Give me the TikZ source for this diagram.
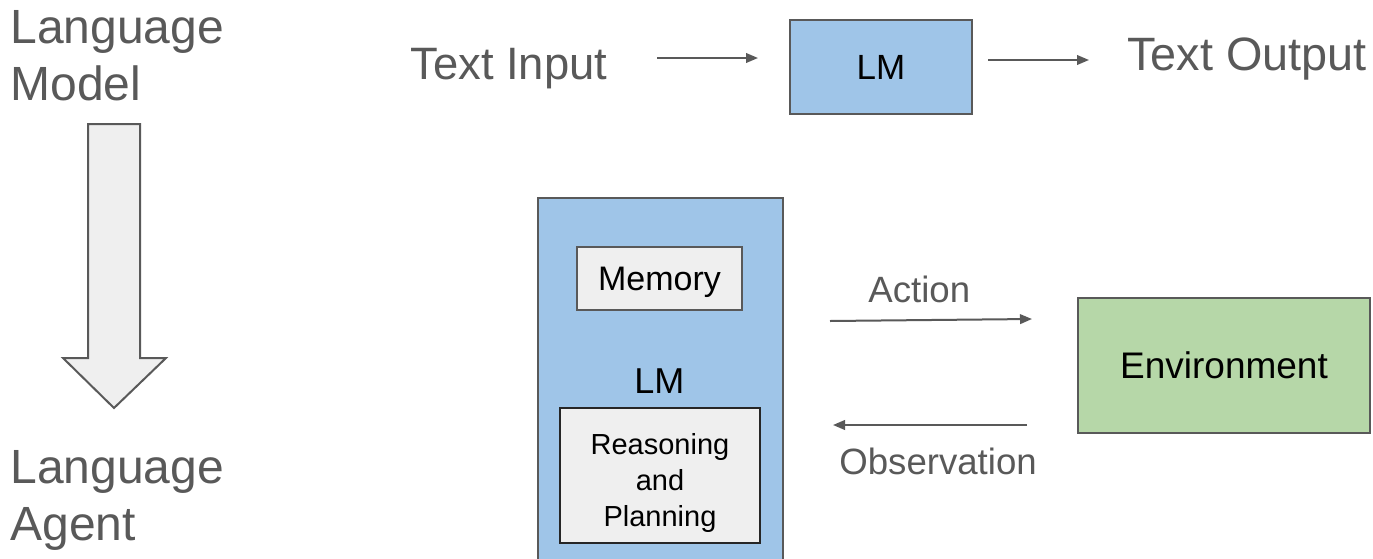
\documentclass[tikz,border=0pt]{standalone}
\usepackage{fontspec}
\setmainfont{Liberation Sans}
\usetikzlibrary{arrows.meta}
\definecolor{tgray}{HTML}{595959}
\definecolor{lmblue}{HTML}{9FC5E8}
\definecolor{envgreen}{HTML}{B6D7A8}
\definecolor{boxgray}{HTML}{EFEFEF}
\begin{document}
\begin{tikzpicture}[x=0.5pt,y=-0.5pt,
  bigtext/.style={text=tgray,font=\fontsize{23.4}{28}\selectfont,inner sep=0pt,anchor=base west,align=left},
  titletext/.style={bigtext,font=\fontsize{24}{28.5}\selectfont},
  midtext/.style={text=tgray,font=\fontsize{18.3}{22}\selectfont,inner sep=0pt,anchor=base west},
  boxnode/.style={draw=tgray,line width=0.8pt,inner sep=0pt,text depth=0pt},
  conn/.style={draw=tgray,line width=1pt,-{Triangle[length=6pt,width=4.8pt]}},
  bigarrow/.style={draw=tgray,fill=boxgray,line width=1pt,line join=miter}
]
\clip (0,0) rectangle (1373,558);
\fill[white] (0,0) rectangle (1373,558);

% left column
\node[titletext] (lmtitle) at (10,100) {Language\\Model};
\node[titletext] (latitle) at (10,540) {Language\\Agent};
\draw[bigarrow] (88,124) -- (140,124) -- (140,358) -- (166,358) -- (114,408) -- (63,358) -- (88,358) -- cycle;

% top row
\node[bigtext,font=\fontsize{22.7}{26}\selectfont] (tin) at (410,79) {Text Input};
\node[boxnode,fill=lmblue,minimum width=91pt,minimum height=47pt,font=\fontsize{17.5}{21}\selectfont] (lm) at (881,67) {LM};
\node[bigtext] (tout) at (1127,70) {Text Output};
\coordinate (a1s) at (657,58);
\coordinate (a1e) at (758,58);
\coordinate (a2s) at (988,60);
\coordinate (a2e) at (1089,60);
\draw[conn] (a1s) -- (a1e);
\draw[conn] (a2s) -- (a2e);

% agent
\node[boxnode,fill=lmblue,minimum width=122.5pt,minimum height=201pt] (agent) at (660.5,399) {};
\node[boxnode,fill=boxgray,minimum width=82.5pt,minimum height=31.5pt,font=\fontsize{17}{20}\selectfont] (mem) at (659.5,278.5) {Memory};
\node[inner sep=0pt,anchor=base west,font=\fontsize{18}{22}\selectfont] (lmlabel) at (634,393) {LM};
\node[draw=black!85,line width=0.9pt,fill=boxgray,minimum width=100pt,minimum height=67.5pt,inner sep=0pt] (rp) at (660,475.5) {};
\node[inner sep=0pt,align=center,font=\fontsize{14.5}{18}\selectfont] (rptext) at (660,482.5) {Reasoning\\and\\Planning};

\node[boxnode,fill=envgreen,minimum width=146pt,minimum height=67.5pt,font=\fontsize{18.5}{22}\selectfont] (env) at (1224,365.5) {Environment};

\node[midtext] (act) at (868,302) {Action};
\node[midtext] (obs) at (839,474) {Observation};
\coordinate (a3s) at (830,321);
\coordinate (a3e) at (1032,319);
\coordinate (a4s) at (1027,425);
\coordinate (a4e) at (833,425);
\draw[conn] (a3s) -- (a3e);
\draw[conn] (a4s) -- (a4e);
\end{tikzpicture}
\end{document}
